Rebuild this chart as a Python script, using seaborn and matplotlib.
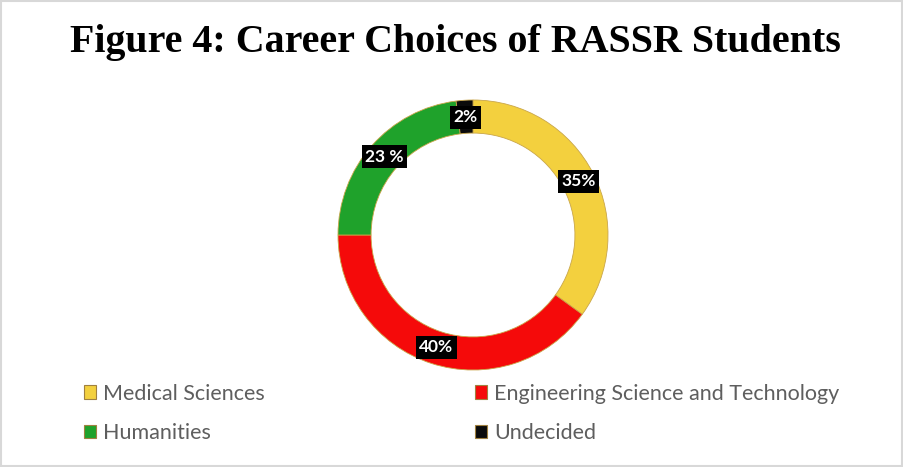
import matplotlib
matplotlib.use("Agg")
import matplotlib.pyplot as plt
import matplotlib.patches as mpatches
import numpy as np
import seaborn as sns

# Data
careers = ["Medical Sciences", "Engineering Science and Technology", "Humanities", "Undecided"]
shares = [35, 40, 23, 2]
share_labels = ["35%", "40%", "23 %", "2%"]
colors = ["#F3D03E", "#F50A0A", "#1FA22B", "#0B0B0B"]

sns.set_style("white")
plt.rcParams['font.family'] = ['Lato', 'DejaVu Sans']

fig = plt.figure(figsize=(9.04, 4.67), dpi=100)

# Title
fig.text(455 / 904, 1 - 52 / 467, "Figure 4: Career Choices of RASSR Students",
         ha='center', va='baseline', fontsize=28.8, fontweight='bold', color='black',
         family=['Liberation Serif', 'DejaVu Serif'])

# Donut
ax = fig.add_axes([338 / 904, 1 - 370 / 467, 270 / 904, 270 / 467])
wedges, _ = ax.pie(shares, colors=colors, startangle=90, counterclock=False,
                   radius=1.0,
                   wedgeprops=dict(width=0.245, edgecolor='#C9A64A', linewidth=0.6))
ax.set_xlim(-1, 1)
ax.set_ylim(-1, 1)
ax.set_aspect('equal')
ax.axis('off')

for w, lab in zip(wedges, share_labels):
    ang = np.deg2rad((w.theta1 + w.theta2) / 2)
    r = 0.875
    ax.text(r * np.cos(ang), r * np.sin(ang), lab, ha='center', va='center',
            color='white', fontsize=12.5, fontweight='bold',
            bbox=dict(boxstyle='square,pad=0.2', facecolor='black', edgecolor='none'))

# Legend: order for 2 columns (filled column-wise)
order = [0, 2, 1, 3]
handles = [mpatches.Patch(facecolor=colors[i], edgecolor='#A08040', linewidth=0.8) for i in order]
labels = [careers[i] for i in order]
fig.legend(handles, labels, ncol=2, loc='upper left',
           bbox_to_anchor=(75 / 904, 1 - 375 / 467), frameon=False,
           fontsize=15.5, labelcolor='#5E5E5E',
           handlelength=0.58, handleheight=0.58, handletextpad=0.33,
           columnspacing=9.75, labelspacing=0.9, borderaxespad=0)

# thin frame around the image
fig.patches.append(mpatches.Rectangle((0.001, 0.002), 0.997, 0.995, transform=fig.transFigure,
                                      fill=False, edgecolor='#D8D8D8', linewidth=1.5))

fig.savefig("out.png", dpi=100)
